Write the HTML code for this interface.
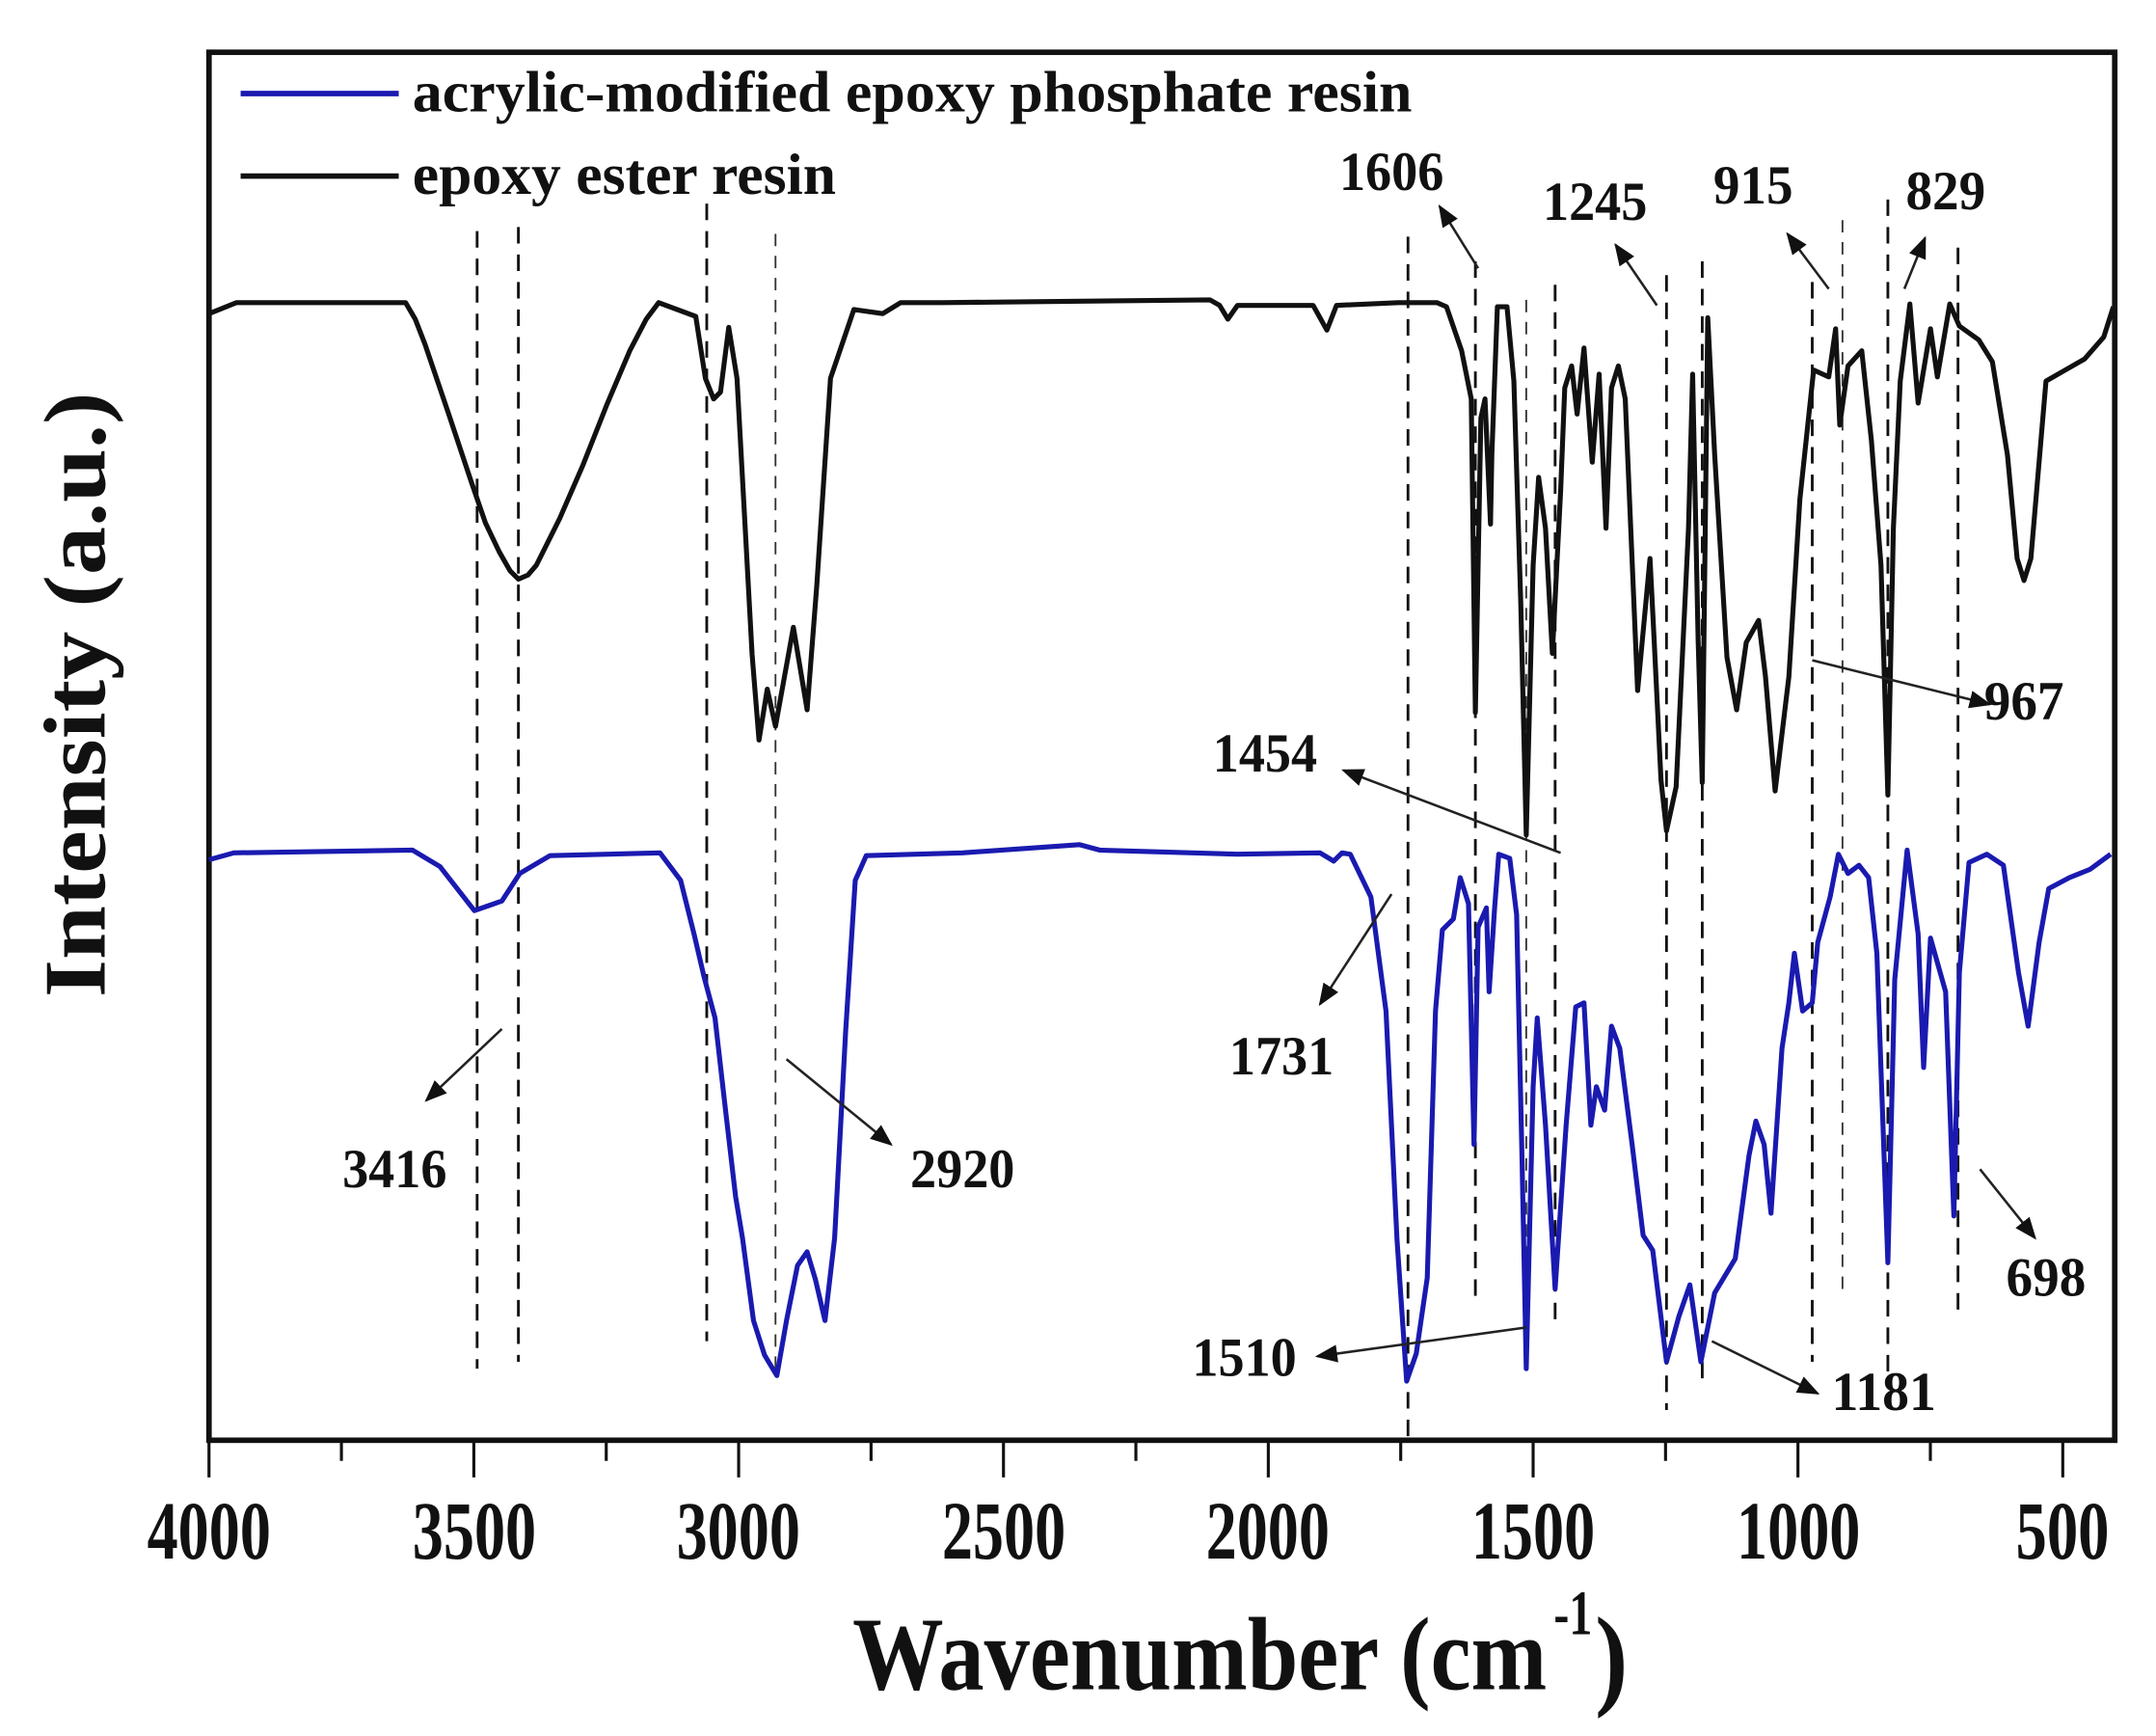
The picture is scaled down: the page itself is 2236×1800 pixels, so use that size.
<!DOCTYPE html>
<html><head><meta charset="utf-8"><style>html,body{margin:0;padding:0;background:#fff}svg{display:block}</style></head>
<body>
<svg width="2236" height="1800" viewBox="0 0 1568 1262" preserveAspectRatio="none" xmlns="http://www.w3.org/2000/svg" font-family="Liberation Serif, serif" font-weight="bold">
<defs><marker id="ah" viewBox="0 0 10 10" refX="9" refY="5" markerWidth="9" markerHeight="9" orient="auto"><path d="M0,1 L10,5 L0,9 Z" fill="#111"/></marker></defs>
<rect x="152" y="38" width="1386" height="1009" fill="none" stroke="#111" stroke-width="4"/>
<g stroke="#111" stroke-width="2.2">
<path d="M152,1047V1074M344.6,1047V1074M537.2,1047V1074M729.8,1047V1074M922.4,1047V1074M1115,1047V1074M1307.6,1047V1074M1500.2,1047V1074"/>
<path d="M248.3,1047V1062M440.9,1047V1062M633.5,1047V1062M826.1,1047V1062M1018.7,1047V1062M1211.3,1047V1062M1403.9,1047V1062"/>
</g>
<g font-size="60" text-anchor="middle" fill="#111">
<text x="152" y="1133" textLength="90" lengthAdjust="spacingAndGlyphs">4000</text>
<text x="345" y="1133" textLength="90" lengthAdjust="spacingAndGlyphs">3500</text>
<text x="537" y="1133" textLength="90" lengthAdjust="spacingAndGlyphs">3000</text>
<text x="730" y="1133" textLength="90" lengthAdjust="spacingAndGlyphs">2500</text>
<text x="922" y="1133" textLength="90" lengthAdjust="spacingAndGlyphs">2000</text>
<text x="1115" y="1133" textLength="90" lengthAdjust="spacingAndGlyphs">1500</text>
<text x="1308" y="1133" textLength="90" lengthAdjust="spacingAndGlyphs">1000</text>
<text x="1500" y="1133" textLength="68" lengthAdjust="spacingAndGlyphs">500</text>
</g>
<text x="620" y="1228" font-size="76" textLength="505" lengthAdjust="spacingAndGlyphs" fill="#111">Wavenumber (cm</text>
<text x="1130" y="1188" font-size="46" textLength="28" lengthAdjust="spacingAndGlyphs" fill="#111">-1</text>
<text x="1160" y="1232" font-size="82" textLength="24" lengthAdjust="spacingAndGlyphs" fill="#111">)</text>
<text transform="translate(76,505) rotate(-90)" x="0" y="0" font-size="64" text-anchor="middle" textLength="440" lengthAdjust="spacingAndGlyphs" fill="#111">Intensity (a.u.)</text>
<line x1="175" y1="68" x2="290" y2="68" stroke="#1a1ab0" stroke-width="4"/>
<line x1="175" y1="128" x2="290" y2="128" stroke="#111" stroke-width="4"/>
<text x="300" y="81" font-size="42" textLength="727" lengthAdjust="spacingAndGlyphs" fill="#111">acrylic-modified epoxy phosphate resin</text>
<text x="300" y="141" font-size="42" textLength="308" lengthAdjust="spacingAndGlyphs" fill="#111">epoxy ester resin</text>
<g stroke="#111" stroke-width="2" stroke-dasharray="12,8" fill="none">
<path d="M347,168V995M377,165V990M514,148V975M1024,172V1050M1073,190V950M1131,207V960M1212,200V1025M1238,190V1010M1318,205V990M1373,145V1000M1424,180V960"/>
</g>
<g stroke="#333" stroke-width="1.3" stroke-dasharray="9,7" fill="none">
<path d="M564,170V1000M1110,218V1000M1340,160V940"/>
</g>
<path fill="none" stroke="#111" stroke-width="3.6" stroke-linejoin="round" d="M152,228 L172,220 L295,220 L302,232 L309,250 L326,300 L343,351 L353,380 L363,401 L371,415 L377,421 L384,418 L390,411 L407,377 L424,338 L441,295 L458,255 L470,232 L479,220 L506,230 L513,275 L519,290 L524,285 L530,238 L536,275 L547,476 L552,538 L558,501 L564,528 L577,456 L587,516 L594,426 L604,275 L621,225 L642,228 L655,220 L685,220 L880,218 L887,222 L893,232 L900,222 L955,222 L965,240 L972,222 L1017,220 L1045,220 L1052,223 L1063,255 L1070,290 L1073,518 L1077,304 L1080,290 L1084,381 L1085,330 L1089,223 L1096,223 L1101,277 L1106,438 L1110,607 L1115,411 L1119,347 L1124,384 L1129,475 L1135,357 L1138,282 L1143,266 L1147,301 L1152,253 L1158,336 L1163,272 L1168,384 L1172,282 L1177,266 L1182,290 L1191,502 L1200,406 L1203,465 L1208,567 L1212,604 L1219,572 L1228,384 L1231,272 L1235,465 L1238,569 L1242,231 L1247,330 L1256,478 L1263,516 L1270,467 L1279,451 L1284,492 L1291,575 L1301,492 L1309,363 L1319,269 L1330,274 L1335,239 L1338,309 L1344,266 L1354,255 L1361,320 L1368,411 L1373,578 L1377,384 L1382,277 L1389,221 L1395,293 L1404,239 L1409,274 L1418,221 L1425,237 L1439,247 L1449,263 L1460,331 L1467,406 L1472,422 L1477,406 L1488,277 L1502,269 L1516,261 L1530,245 L1537,223"/>
<path fill="none" stroke="#1a1ab0" stroke-width="3.6" stroke-linejoin="round" d="M152,625 L170,620 L300,618 L320,630 L345,662 L365,655 L378,635 L400,622 L480,620 L495,640 L505,680 L512,710 L520,740 L528,810 L535,870 L540,900 L548,960 L556,985 L565,1000 L572,960 L580,920 L587,910 L593,930 L600,960 L607,900 L615,750 L622,640 L630,622 L700,620 L785,614 L800,618 L900,621 L960,620 L970,626 L976,620 L982,621 L997,652 L1008,735 L1016,901 L1023,1004 L1030,984 L1038,929 L1044,735 L1049,676 L1057,668 L1062,638 L1068,657 L1072,832 L1075,674 L1081,660 L1083,721 L1087,660 L1090,621 L1098,624 L1103,665 L1107,846 L1110,995 L1115,790 L1118,740 L1124,818 L1131,937 L1139,818 L1146,732 L1152,729 L1157,818 L1161,790 L1167,807 L1172,746 L1178,762 L1187,832 L1195,898 L1202,909 L1212,990 L1221,957 L1229,934 L1237,990 L1247,940 L1262,915 L1272,840 L1277,815 L1283,832 L1288,882 L1296,762 L1301,729 L1305,693 L1311,735 L1318,729 L1322,685 L1331,652 L1337,621 L1344,635 L1352,629 L1359,638 L1365,693 L1373,918 L1378,712 L1387,618 L1395,679 L1399,776 L1404,682 L1415,721 L1421,884 L1425,707 L1432,627 L1445,621 L1457,629 L1468,707 L1475,746 L1483,685 L1490,646 L1505,638 L1520,632 L1535,621"/>
<g stroke="#222" stroke-width="1.8" fill="none" marker-end="url(#ah)">
<line x1="1075" y1="195" x2="1047" y2="150"/>
<line x1="1205" y1="222" x2="1175" y2="178"/>
<line x1="1330" y1="210" x2="1300" y2="170"/>
<line x1="1385" y1="210" x2="1400" y2="173"/>
<line x1="1318" y1="480" x2="1447" y2="512"/>
<line x1="1135" y1="620" x2="977" y2="560"/>
<line x1="1012" y1="650" x2="960" y2="730"/>
<line x1="365" y1="748" x2="310" y2="800"/>
<line x1="572" y1="770" x2="648" y2="832"/>
<line x1="1110" y1="965" x2="958" y2="986"/>
<line x1="1245" y1="975" x2="1322" y2="1013"/>
<line x1="1440" y1="850" x2="1480" y2="900"/>
</g>
<g font-size="40" text-anchor="middle" fill="#111">
<text x="1012" y="138" textLength="76" lengthAdjust="spacingAndGlyphs">1606</text>
<text x="1160" y="160" textLength="76" lengthAdjust="spacingAndGlyphs">1245</text>
<text x="1275" y="148" textLength="58" lengthAdjust="spacingAndGlyphs">915</text>
<text x="1415" y="152" textLength="58" lengthAdjust="spacingAndGlyphs">829</text>
<text x="1472" y="523" textLength="58" lengthAdjust="spacingAndGlyphs">967</text>
<text x="920" y="561" textLength="76" lengthAdjust="spacingAndGlyphs">1454</text>
<text x="932" y="781" textLength="76" lengthAdjust="spacingAndGlyphs">1731</text>
<text x="287" y="863" textLength="76" lengthAdjust="spacingAndGlyphs">3416</text>
<text x="700" y="863" textLength="76" lengthAdjust="spacingAndGlyphs">2920</text>
<text x="905" y="1000" textLength="76" lengthAdjust="spacingAndGlyphs">1510</text>
<text x="1370" y="1025" textLength="76" lengthAdjust="spacingAndGlyphs">1181</text>
<text x="1488" y="942" textLength="58" lengthAdjust="spacingAndGlyphs">698</text>
</g>
</svg>
</body></html>
